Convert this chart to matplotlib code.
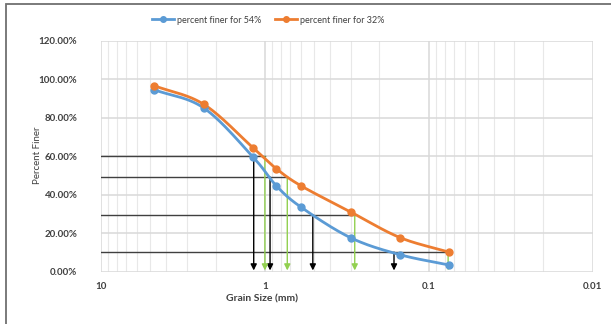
import numpy as np
import matplotlib
matplotlib.use("Agg")
import matplotlib.pyplot as plt
from matplotlib.ticker import FuncFormatter, LogLocator, FixedLocator
from matplotlib.patches import Rectangle

plt.rcParams['font.family'] = ['Lato', 'DejaVu Sans']

# sieve sizes (mm) and percent finer
sizes = [4.75, 2.36, 1.18, 0.85, 0.6, 0.3, 0.15, 0.075]
finer_54 = [94.7, 85.2, 59.7, 44.7, 33.6, 17.8, 9.0, 3.6]
finer_32 = [96.8, 87.1, 64.5, 53.6, 44.7, 31.2, 17.9, 10.3]

# D60, D50, D30, D10 read-offs
d_levels = [60, 49.3, 29.7, 10.3]
d_54 = [1.17, 0.93, 0.51, 0.163]
d_32 = [1.0, 0.73, 0.283, 0.0762]

blue = "#5B9BD5"
orange = "#ED7D31"
green = "#92D050"


def smooth(xs, ys, n=30):
    # catmull-rom through the points, x in log space
    lx = np.log10(xs)
    ys = np.array(ys, dtype=float)
    px = np.concatenate([[2 * lx[0] - lx[1]], lx, [2 * lx[-1] - lx[-2]]])
    py = np.concatenate([[2 * ys[0] - ys[1]], ys, [2 * ys[-1] - ys[-2]]])
    outx, outy = [], []
    t = np.linspace(0, 1, n)
    for i in range(1, len(px) - 2):
        for p, out in ((px, outx), (py, outy)):
            p0, p1, p2, p3 = p[i - 1], p[i], p[i + 1], p[i + 2]
            out.extend(0.5 * ((2 * p1) + (-p0 + p2) * t
                              + (2 * p0 - 5 * p1 + 4 * p2 - p3) * t ** 2
                              + (-p0 + 3 * p1 - 3 * p2 + p3) * t ** 3))
    return 10 ** np.array(outx), np.array(outy)


fig = plt.figure(figsize=(6.11, 3.24), dpi=100)
ax = fig.add_axes([0.1653, 0.1605, 0.8047, 0.713])

ax.set_xscale('log')
ax.set_xlim(10, 0.01)
ax.set_ylim(0, 120)

ax.xaxis.set_major_locator(FixedLocator([10, 1, 0.1, 0.01]))
ax.xaxis.set_minor_locator(LogLocator(base=10, subs=np.arange(2, 10)))
ax.xaxis.set_major_formatter(FuncFormatter(lambda v, p: "%g" % v))
ax.xaxis.set_minor_formatter(FuncFormatter(lambda v, p: ""))
ax.set_yticks(np.arange(0, 121, 20))
ax.yaxis.set_major_formatter(FuncFormatter(lambda v, p: "%.2f%%" % v))

ax.grid(True, which='major', color='#d9d9d9', lw=1.1)
ax.grid(True, which='minor', axis='x', color='#e8e8e8', lw=0.8)
for s in ax.spines.values():
    s.set_visible(False)
ax.tick_params(which='both', length=0)
ax.tick_params(axis='y', pad=17, labelsize=7)
ax.tick_params(axis='x', pad=7, labelsize=7)
for lab in ax.get_xticklabels() + ax.get_yticklabels():
    lab.set_fontweight('bold')
    lab.set_color('#404040')

# horizontal read-off lines
for lev, right in zip(d_levels, d_32):
    ax.plot([10, right], [lev, lev], color='#404040', lw=1, zorder=3)

# vertical arrows
for lev, xv in zip(d_levels, d_54):
    ax.annotate('', xy=(xv, 0.8), xytext=(xv, lev),
                arrowprops=dict(arrowstyle='-|>', color='black', lw=1,
                                mutation_scale=9, shrinkA=0, shrinkB=0), zorder=3)
for lev, xv in zip(d_levels, d_32):
    ax.annotate('', xy=(xv, 0.8), xytext=(xv, lev),
                arrowprops=dict(arrowstyle='-|>', color=green, lw=1,
                                mutation_scale=9, shrinkA=0, shrinkB=0), zorder=3)

sx, sy = smooth(sizes, finer_54)
ax.plot(sx, sy, color=blue, lw=2, zorder=4)
ax.plot(sizes, finer_54, 'o', color=blue, ms=5, zorder=5)
sx, sy = smooth(sizes, finer_32)
ax.plot(sx, sy, color=orange, lw=2, zorder=4)
ax.plot(sizes, finer_32, 'o', color=orange, ms=5, zorder=5)

h1, = ax.plot([], [], '-o', color=blue, lw=2, ms=4)
h2, = ax.plot([], [], '-o', color=orange, lw=2, ms=4)
fig.legend([h1, h2], ["percent finer for 54%", "percent finer for 32%"],
           loc='center', bbox_to_anchor=(0.439, 0.938), ncol=2, frameon=False,
           fontsize=6.5, handlelength=2.4, columnspacing=1.6, handletextpad=0.3,
           labelcolor='#404040')

fig.text(0.429, 0.077, "Grain Size (mm)", ha='center', va='center',
         fontsize=7.5, fontweight='bold', color='#404040')
fig.text(0.062, 0.52, "Percent Finer", ha='center', va='center', rotation=90,
         fontsize=7, color='#404040')

fig.patches.append(Rectangle((5.5 / 611, -0.1), 1.2, 1 - 4.5 / 324 + 0.1,
                             transform=fig.transFigure, fill=False,
                             edgecolor='#707070', lw=1.3))

fig.savefig("out.png", dpi=100)
